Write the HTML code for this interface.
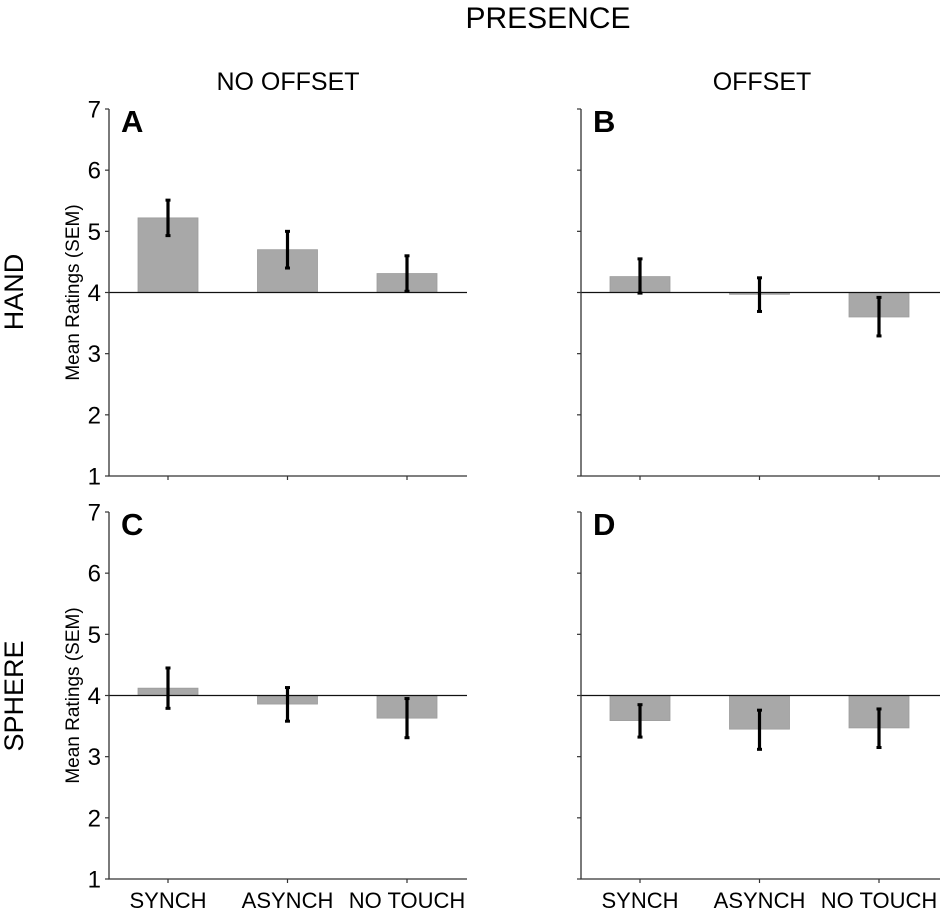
<!DOCTYPE html>
<html><head><meta charset="utf-8"><style>
html,body{margin:0;padding:0;background:#fff;}
svg{display:block;font-family:"Liberation Sans",Arial,sans-serif;}
</style></head><body>
<svg id="chart" width="945" height="914" viewBox="0 0 945 914">
<text x="548" y="28" font-size="30" text-anchor="middle">PRESENCE</text>
<text x="288" y="90" font-size="25" text-anchor="middle">NO OFFSET</text>
<text x="762" y="90" font-size="25" text-anchor="middle">OFFSET</text>
<text transform="translate(23,292) rotate(-90)" font-size="27" text-anchor="middle">HAND</text>
<text transform="translate(23,696) rotate(-90)" font-size="27" text-anchor="middle">SPHERE</text>
<g id="panels"></g>
</svg>
<script>
const categories = ["SYNCH", "ASYNCH", "NO TOUCH"];
const panelLetters = ["A", "B", "C", "D"];
const meanA = [5.22, 4.70, 4.31];
const errHiA = [5.51, 5.00, 4.60];
const errLoA = [4.93, 4.40, 4.02];
const meanB = [4.26, 3.97, 3.60];
const errHiB = [4.55, 4.24, 3.92];
const errLoB = [3.99, 3.69, 3.29];
const meanC = [4.12, 3.86, 3.63];
const errHiC = [4.45, 4.13, 3.95];
const errLoC = [3.79, 3.58, 3.31];
const meanD = [3.59, 3.45, 3.47];
const errHiD = [3.85, 3.76, 3.78];
const errLoD = [3.32, 3.12, 3.15];
const yTicks = [1, 2, 3, 4, 5, 6, 7];
const baseline = 4;

const NS = "http://www.w3.org/2000/svg";
const root = document.getElementById("panels");
function mk(tag, attrs, parent) {
  const e = document.createElementNS(NS, tag);
  for (const k in attrs) e.setAttribute(k, attrs[k]);
  parent.appendChild(e);
  return e;
}
const layouts = [
  {x0: 109, x1: 467, yTop: 109, yBot: 476, labels: true, xlabels: false, ytitle: true},
  {x0: 581, x1: 940, yTop: 109, yBot: 476, labels: false, xlabels: false, ytitle: false},
  {x0: 109, x1: 467, yTop: 512, yBot: 879, labels: true, xlabels: true, ytitle: true},
  {x0: 581, x1: 940, yTop: 512, yBot: 879, labels: false, xlabels: true, ytitle: false}
];
const series = [[meanA, errHiA, errLoA], [meanB, errHiB, errLoB], [meanC, errHiC, errLoC], [meanD, errHiD, errLoD]];

layouts.forEach((L, p) => {
  const g = mk("g", {}, root);
  
  
  const y = v => L.yBot - (v - 1) / 6 * (L.yBot - L.yTop);
  const x = i => L.x0 + 59 + i * 119.5;
  const [m, hi, lo] = series[p];
  m.forEach((v, i) => {
    const r = mk("rect", {x: x(i) - 30, y: Math.min(y(v), y(baseline)), width: 60, height: Math.abs(y(v) - y(baseline)), fill: "#a8a8a8", stroke: "#9c9c9c", "stroke-width": 0.8}, g);
    
    
  });
  const yl = mk("line", {x1: L.x0, x2: L.x1, y1: y(baseline), y2: y(baseline), stroke: "#111", "stroke-width": 1.3}, g);
  
  
  m.forEach((v, i) => {
    const eg = mk("g", {stroke: "#000"}, g);
    
    
    mk("line", {x1: x(i), x2: x(i), y1: y(hi[i]), y2: y(lo[i]), "stroke-width": 3.2}, eg);
    mk("line", {x1: x(i) - 2.5, x2: x(i) + 2.5, y1: y(hi[i]), y2: y(hi[i]), "stroke-width": 3}, eg);
    mk("line", {x1: x(i) - 2.5, x2: x(i) + 2.5, y1: y(lo[i]), y2: y(lo[i]), "stroke-width": 3}, eg);
  });
  const ax = mk("path", {d: `M${L.x0},${L.yTop}V${L.yBot}H${L.x1}`, fill: "none", stroke: "#333", "stroke-width": 1.3}, g);
  
  
  yTicks.forEach(t => {
    mk("line", {x1: L.x0 - 4, x2: L.x0, y1: y(t), y2: y(t), stroke: "#333", "stroke-width": 1.2}, g);
    if (L.labels) {
      const tl = mk("text", {x: L.x0 - 8, y: y(t) + 8.5, "font-size": 24, "text-anchor": "end"}, g);
      tl.textContent = t;
      
      
    }
  });
  categories.forEach((c, i) => {
    mk("line", {x1: x(i), x2: x(i), y1: L.yBot, y2: L.yBot + 4, stroke: "#333", "stroke-width": 1.2}, g);
    if (L.xlabels) {
      const xl = mk("text", {x: x(i), y: 908, "font-size": 22, "text-anchor": "middle"}, g);
      xl.textContent = c;
      
      
    }
  });
  if (L.ytitle) {
    const yt = mk("text", {transform: `translate(79,${(L.yTop + L.yBot) / 2}) rotate(-90)`, "font-size": 19, "text-anchor": "middle"}, g);
    yt.textContent = "Mean Ratings (SEM)";
    
    
  }
  const pl = mk("text", {x: L.x0 + 12, y: L.yTop + 23, "font-size": 31, "font-weight": "bold"}, g);
  pl.textContent = panelLetters[p];
  
  
});
</script>
</body></html>
